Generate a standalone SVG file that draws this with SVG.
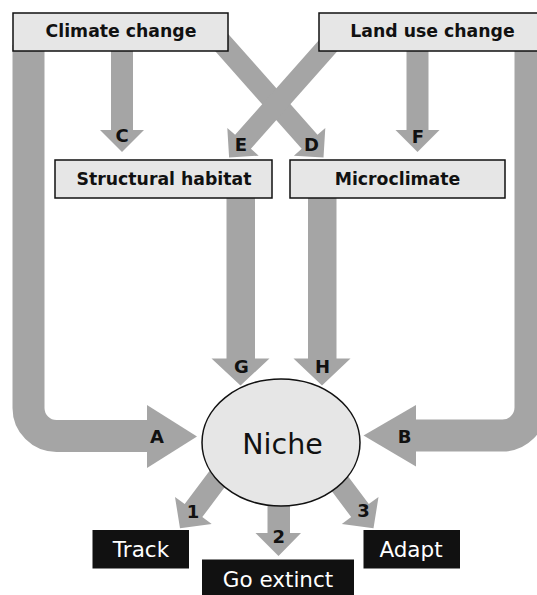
<svg xmlns="http://www.w3.org/2000/svg" width="537" height="595" viewBox="0 0 537 595">
<style>
.arr{fill:#a5a5a5;stroke:none}
.band{fill:none;stroke:#a5a5a5;stroke-width:32}
.box{fill:#e6e6e6;stroke:#111;stroke-width:1.5}
.out{fill:#111;stroke:none}
.t{font-family:"DejaVu Sans",Verdana,sans-serif;font-weight:bold;font-size:17.3px;fill:#111;text-anchor:middle}
.lbl{font-family:"DejaVu Sans",Verdana,sans-serif;font-weight:bold;font-size:18px;fill:#111;text-anchor:middle}
.ot{font-family:"DejaVu Sans",Verdana,sans-serif;font-size:21.5px;fill:#fff;text-anchor:middle}
</style>
<rect width="537" height="595" fill="#fff"/>
<g id="connectors">
  <!-- A -->
  <path class="band" d="M28.5 45 V408 A28 28 0 0 0 56.5 436 H148"/>
  <polygon class="arr" points="147,405 197,436.5 147,468"/>
  <!-- B -->
  <path class="band" d="M530.5 45 V407.5 A28 28 0 0 1 502.5 435.5 H415"/>
  <polygon class="arr" points="416,405 363.5,435.5 416,466.5"/>
  <!-- C -->
  <polygon class="arr" points="111,45 133,45 133,130 144,130 122,152 100,130 111,130"/>
  <!-- F -->
  <polygon class="arr" points="406.5,45 428.5,45 428.5,130 439.5,130 417.5,152 395.5,130 406.5,130"/>
  <!-- D -->
  <polygon class="arr" points="224,29.2 317.5,134.8 325.3,127.9 323.5,157.5 293.9,155.7 301.7,148.8 208.2,43.2"/>
  <!-- E -->
  <polygon class="arr" points="328.6,29.2 235.1,134.8 227.3,127.9 229.1,157.5 258.7,155.7 250.9,148.8 344.4,43.2"/>
  <!-- G -->
  <polygon class="arr" points="226.5,195 255,195 255,358.5 269.5,358.5 240.5,385.5 211.5,358.5 226.5,358.5"/>
  <!-- H -->
  <polygon class="arr" points="308,195 336.5,195 336.5,358.5 350.5,358.5 322,385.5 293.5,358.5 308,358.5"/>
  <!-- 1 -->
  <polygon class="arr" points="229.3,481.1 202.3,517.1 211.7,524 180,528.3 175,497 184.7,503.9 211.7,467.9"/>
  <!-- 2 -->
  <polygon class="arr" points="267.5,490 290,490 290,533 301,533 278.5,556 255.5,533 267.5,533"/>
  <!-- 3 -->
  <polygon class="arr" points="324.2,481.1 351.2,517.1 341.8,524 373.5,528.3 378.5,497 368.8,503.9 341.8,467.9"/>
  <g class="lbl">
    <text x="157" y="443.3">A</text>
    <text x="404.7" y="442.7">B</text>
    <text x="122" y="142">C</text>
    <text x="311.5" y="150.7">D</text>
    <text x="241" y="150.7">E</text>
    <text x="418" y="143">F</text>
    <text x="241.5" y="372.7">G</text>
    <text x="322.5" y="372.7">H</text>
    <text x="193" y="517.7">1</text>
    <text x="278.8" y="542.7">2</text>
    <text x="363.5" y="516.7">3</text>
  </g>
</g>
<g id="climate-change">
  <rect class="box" x="13" y="13" width="215" height="38"/>
  <text class="t" x="121" y="37.3">Climate change</text>
</g>
<g id="land-use-change">
  <rect class="box" x="319" y="13" width="240" height="38"/>
  <text class="t" x="432.5" y="37.3">Land use change</text>
</g>
<g id="structural-habitat">
  <rect class="box" x="55" y="160" width="217" height="38"/>
  <text class="t" x="164" y="185">Structural habitat</text>
</g>
<g id="microclimate">
  <rect class="box" x="290" y="160" width="215" height="38"/>
  <text class="t" x="397.5" y="185">Microclimate</text>
</g>
<g id="niche">
  <ellipse cx="281" cy="442.5" rx="79" ry="63.5" fill="#e6e6e6" stroke="#111" stroke-width="1.5"/>
  <text x="282.5" y="454" font-family="'DejaVu Sans',Verdana,sans-serif" font-size="28.5" fill="#111" text-anchor="middle">Niche</text>
</g>
<g id="track">
  <rect class="out" x="92.5" y="530" width="96.5" height="38.5"/>
  <text class="ot" x="141" y="556.7">Track</text>
</g>
<g id="go-extinct">
  <rect class="out" x="202" y="559.5" width="152" height="40"/>
  <text class="ot" x="278" y="587">Go extinct</text>
</g>
<g id="adapt">
  <rect class="out" x="363.5" y="530" width="96.5" height="38.5"/>
  <text class="ot" x="411" y="556.7">Adapt</text>
</g>
</svg>
